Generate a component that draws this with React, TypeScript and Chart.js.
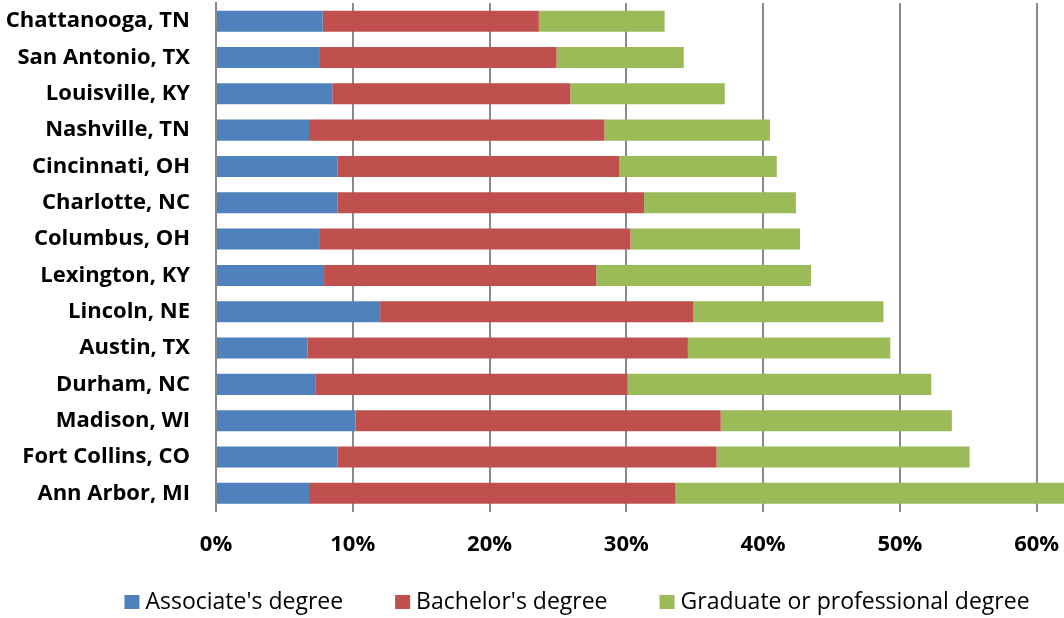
import React, { useEffect, useRef } from "react";
import { Chart, registerables } from "chart.js";

Chart.register(...registerables);

// Share of adults (%) by highest degree earned, per metro area
const cities = [
  "Chattanooga, TN",
  "San Antonio, TX",
  "Louisville, KY",
  "Nashville, TN",
  "Cincinnati, OH",
  "Charlotte, NC",
  "Columbus, OH",
  "Lexington, KY",
  "Lincoln, NE",
  "Austin, TX",
  "Durham, NC",
  "Madison, WI",
  "Fort Collins, CO",
  "Ann Arbor, MI",
];
const associate = [7.8, 7.6, 8.5, 6.8, 8.9, 8.9, 7.6, 7.9, 12.0, 6.7, 7.3, 10.2, 8.9, 6.8];
const bachelor = [15.8, 17.3, 17.4, 21.6, 20.6, 22.4, 22.7, 19.9, 22.9, 27.8, 22.8, 26.7, 27.7, 26.8];
const graduate = [9.2, 9.3, 11.3, 12.1, 11.5, 11.1, 12.4, 15.7, 13.9, 14.8, 22.2, 16.9, 18.5, 28.6];
const seriesNames = ["Associate's degree", "Bachelor's degree", "Graduate or professional degree"];
const seriesColors = ["#4F81BD", "#C0504D", "#9BBB59"];
const percentTicks = [0, 10, 20, 30, 40, 50, 60];
const axisMax = 62;

const FONT = "'Open Sans', Lato, sans-serif";
const GRID = "#8a8a8a";

// Legend drawn as one centred row under the axis
const bottomLegend = {
  id: "bottomLegend",
  afterDraw(chart: any) {
    const ctx = chart.ctx as CanvasRenderingContext2D;
    const box = 15;
    const gap = 6;
    const spacing = 52;
    const centerX = 577;
    const baseY = 609;
    ctx.save();
    ctx.font = `400 23px ${FONT}`;
    ctx.textBaseline = "alphabetic";
    ctx.textAlign = "left";
    const items = chart.data.datasets.map((ds: any) => ({
      text: ds.label as string,
      color: ds.backgroundColor as string,
      w: ctx.measureText(ds.label).width,
    }));
    const total =
      items.reduce((s: number, it: any) => s + box + gap + it.w, 0) + spacing * (items.length - 1);
    let x = centerX - total / 2;
    for (const it of items) {
      ctx.fillStyle = it.color;
      ctx.fillRect(x, baseY - 14, box, 14);
      x += box + gap;
      ctx.fillStyle = "#000";
      ctx.fillText(it.text, x, baseY);
      x += it.w + spacing;
    }
    ctx.restore();
  },
};

export default function App() {
  const canvasRef = useRef<HTMLCanvasElement | null>(null);

  useEffect(() => {
    const canvas = canvasRef.current;
    if (!canvas) return;
    const values = [associate, bachelor, graduate];
    const chart = new Chart(canvas, {
      type: "bar",
      data: {
        labels: cities,
        datasets: seriesNames.map((name, i) => ({
          label: name,
          data: values[i],
          backgroundColor: seriesColors[i],
          borderWidth: 0,
          categoryPercentage: 1,
          barPercentage: 0.58,
        })),
      },
      options: {
        indexAxis: "y",
        responsive: false,
        animation: false,
        layout: { padding: { top: 3, left: 0, right: 0, bottom: 46.5 } },
        plugins: {
          legend: { display: false },
          tooltip: { enabled: false },
        },
        scales: {
          x: {
            stacked: true,
            min: 0,
            max: axisMax,
            afterBuildTicks: (scale: any) => {
              scale.ticks = percentTicks.map((v) => ({ value: v }));
            },
            afterFit: (scale: any) => {
              scale.height = 60;
              scale.paddingLeft = 0;
              scale.paddingRight = 0;
            },
            grid: { color: GRID, lineWidth: 2, drawTicks: false },
            border: { display: false },
            ticks: {
              padding: 20,
              color: "#000",
              font: { family: FONT, size: 22, weight: "bold" },
              callback: (v: any) => `${v}%`,
            },
          },
          y: {
            stacked: true,
            afterFit: (scale: any) => {
              scale.width = 216;
              scale.paddingTop = 0;
              scale.paddingBottom = 0;
            },
            grid: { display: false, drawTicks: false },
            border: { display: true, color: GRID, width: 2 },
            ticks: {
              padding: 26,
              color: "#000",
              font: { family: FONT, size: 22, weight: "bold" },
            },
          },
        },
      },
      plugins: [bottomLegend],
    });
    return () => chart.destroy();
  }, []);

  return (
    <div style={{ position: "absolute", left: 0, top: 0, width: 1064, height: 618, background: "#fff" }}>
      <canvas ref={canvasRef} width={1064} height={618} style={{ display: "block" }} />
    </div>
  );
}
